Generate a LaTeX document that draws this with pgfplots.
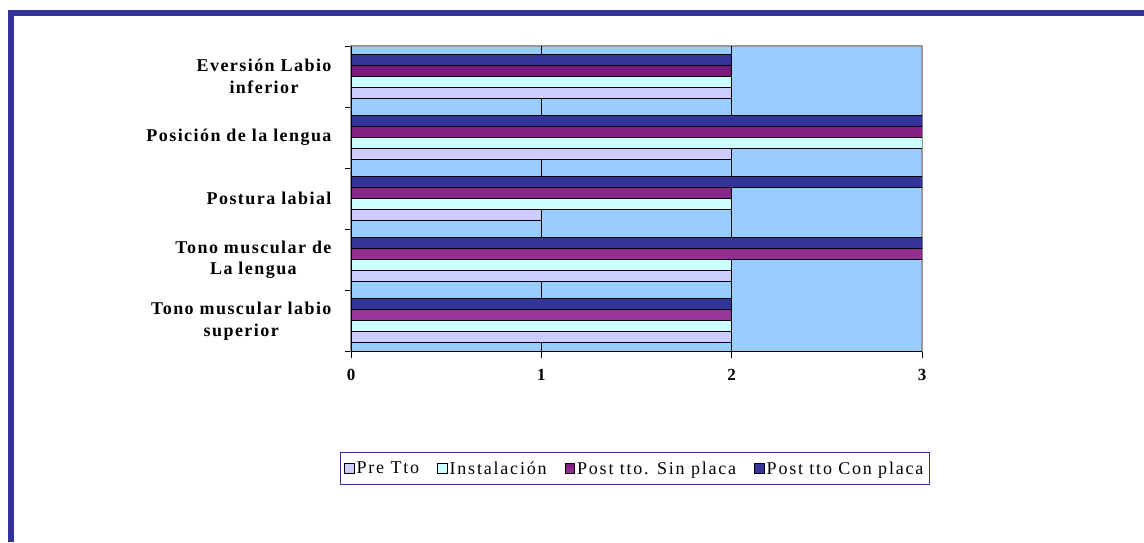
\documentclass[border=0pt]{standalone}
\usepackage{fontspec}
\setmainfont{Liberation Serif}
\newfontfamily\ylabfont[LetterSpace=8]{Liberation Serif}
\newfontfamily\legfont[LetterSpace=10]{Liberation Serif}
\usepackage{pgfplots}
\pgfplotsset{compat=1.18}
\definecolor{preC}{HTML}{CCCCFF}
\definecolor{insC}{HTML}{CCFFFF}
\definecolor{sinTop}{HTML}{7A1A7A}
\definecolor{sinBot}{HTML}{9A369A}
\definecolor{conC}{HTML}{333399}
\definecolor{bgC}{HTML}{99CCFF}
\definecolor{frameC}{HTML}{333399}
\begin{document}
\begin{tikzpicture}
\useasboundingbox (0pt,0pt) rectangle (1144pt,542pt);
\fill[white] (0pt,0pt) rectangle (1144pt,542pt);
\fill[frameC] (8pt,0pt) rectangle (14pt,532pt);
\fill[frameC] (8pt,526pt) rectangle (1144pt,532pt);
\begin{axis}[
  at={(351pt,190.5pt)}, anchor=south west,
  width=571pt, height=305.5pt, scale only axis,
  xbar, bar width=11pt,
  xmin=0, xmax=3, ymin=-0.5, ymax=4.5,
  axis background/.style={fill=bgC},
  axis line style={draw=gray!80, line width=1.2pt},
  xtick={0,1,2,3},
  xticklabels={0,1,2,3},
  xticklabel style={font=\bfseries\fontsize{17}{19}\selectfont, yshift=-8pt},
  x tick style={black, line width=1pt},
  major tick length=6pt,
  minor tick length=6pt,
  tick align=outside,
  xtick pos=bottom, ytick pos=left,
  extra x ticks={1,2},
  extra x tick labels={},
  extra x tick style={grid=major, major grid style={black, line width=1.3pt}},
  ytick={0,1,2,3,4},
  yticklabels={{Tono muscular labio\\superior},{Tono muscular de\\La lengua},{Postura labial},{Posición de la lengua},{Eversión Labio\\inferior}},
  yticklabel style={font=\bfseries\ylabfont\fontsize{18}{21.5}\selectfont, align=center, xshift=-10pt},
  major y tick style={draw=none},
  minor ytick={-0.5,0.5,1.5,2.5,3.5,4.5},
  minor y tick style={black, line width=1pt},
  legend columns=4,
  legend style={at={(0.497,-0.383)}, anchor=center, draw=frameC, line width=1pt,
    font=\legfont\fontsize{18}{20}\selectfont,
    /tikz/every even column/.append style={column sep=16pt},
    inner xsep=4pt, inner ysep=7pt},
  legend image code/.code={\draw[#1, draw=black, line width=0.9pt] (0pt,-4.8pt) rectangle (9.6pt,4.8pt);},
]
\addplot[fill=preC, draw=black, line width=1pt, bar shift=-16.5pt] coordinates {(2,0) (2,1) (1,2) (2,3) (2,4)};
\addplot[fill=insC, draw=black, line width=1pt, bar shift=-5.5pt] coordinates {(2,0) (2,1) (2,2) (3,3) (2,4)};
\addplot[top color=sinTop, bottom color=sinBot, draw=black, line width=1pt, bar shift=5.5pt] coordinates {(2,0) (3,1) (2,2) (3,3) (2,4)};
\addplot[fill=conC, draw=black, line width=1pt, bar shift=16.5pt] coordinates {(2,0) (3,1) (3,2) (3,3) (2,4)};
\legend{Pre Tto,Instalación,Post tto. Sin placa,Post tto Con placa}
\draw[black, line width=1.3pt] (rel axis cs:0,1) -- (rel axis cs:0,0) -- (rel axis cs:1,0);
\end{axis}
\end{tikzpicture}
\end{document}
